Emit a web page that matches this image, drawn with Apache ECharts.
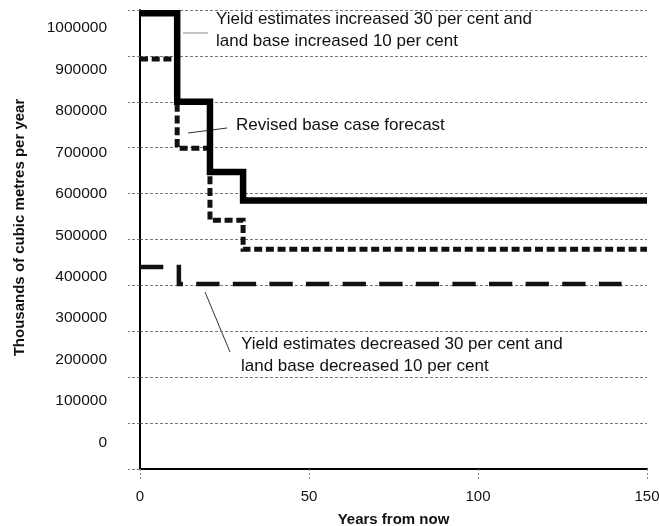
<!DOCTYPE html>
<html>
<head>
<meta charset="utf-8">
<script src="https://cdn.jsdelivr.net/npm/echarts@6/dist/echarts.min.js"></script>
<style>
  html, body { margin: 0; padding: 0; background: #fff; }
  #chart { width: 659px; height: 526px; }
</style>
</head>
<body>
<div id="chart"></div>
<script>
// step positions (years from now) and levels, thousands of m3 per year
var stepYears = [0, 11, 20.7, 30.5, 150];
var increased = [993000, 800000, 647000, 585000, 585000];
var baseCase = [893000, 699000, 542000, 479000, 479000];
var decreasedYears = [0, 11.5, 142.5];
var decreased = [440000, 403000, 403000];
var yTickLabels = [0, 100000, 200000, 300000, 400000, 500000, 600000, 700000, 800000, 900000, 1000000];

var FONT = '"Liberation Sans", Arial, sans-serif';

function zip(xs, ys) {
  return xs.map(function (x, i) { return [x, ys[i]]; });
}

var gridLine = { color: '#777', width: 1, type: [3, 2] };

var option = {
  animation: false,
  backgroundColor: '#fff',
  grid: { left: 140, right: 12, top: 10, bottom: 57, outerBoundsMode: 'none', containLabel: false },
  xAxis: {
    type: 'value',
    min: 0,
    max: 150,
    interval: 50,
    name: 'Years from now',
    nameLocation: 'middle',
    nameGap: 43,
    nameTextStyle: { fontFamily: FONT, fontWeight: 'bold', fontSize: 15, color: '#111' },
    axisLine: { lineStyle: { color: '#000', width: 2 } },
    axisTick: { length: 12, lineStyle: { color: '#888', width: 1, type: [2, 2] } },
    axisLabel: { margin: 20, fontFamily: FONT, fontSize: 15, color: '#111' },
    splitLine: { show: false }
  },
  yAxis: [
    {
      // drawing axis: holds gridlines and data
      type: 'value',
      min: 0,
      max: 1000000,
      interval: 100000,
      axisLine: { show: true, lineStyle: { color: '#000', width: 2 } },
      axisTick: { show: true, length: 12, lineStyle: gridLine },
      axisLabel: { show: false },
      splitLine: { show: true, lineStyle: gridLine }
    },
    {
      // label axis: the printed labels sit on their own spacing
      type: 'value',
      min: -64000,
      max: 1043400,
      position: 'left',
      axisLine: { show: false },
      axisTick: { show: false },
      splitLine: { show: false },
      axisLabel: {
        customValues: yTickLabels,
        formatter: function (v) { return String(v); },
        margin: 33,
        fontFamily: FONT,
        fontSize: 15.5,
        color: '#111'
      },
      name: 'Thousands of cubic metres per year',
      nameLocation: 'middle',
      nameGap: 113,
      nameTextStyle: {
        fontFamily: FONT, fontWeight: 'bold', fontSize: 15, color: '#111',
        padding: [0, 0, 0, 24]
      }
    }
  ],
  series: [
    {
      name: 'Increased',
      type: 'line',
      step: 'end',
      symbol: 'none',
      z: 4,
      data: zip(stepYears, increased),
      lineStyle: { color: '#000', width: 6.5, join: 'miter' }
    },
    {
      name: 'Base case',
      type: 'line',
      step: 'end',
      symbol: 'none',
      z: 3,
      data: zip(stepYears, baseCase),
      lineStyle: { color: '#111', width: 5, type: [8, 3.7], join: 'miter' }
    },
    {
      name: 'Decreased',
      type: 'line',
      step: 'end',
      symbol: 'none',
      z: 3,
      data: zip(decreasedYears, decreased),
      lineStyle: { color: '#111', width: 4.5, type: [23.3, 13.3], join: 'miter' }
    }
  ],
  graphic: [
    { type: 'line', shape: { x1: 183, y1: 33, x2: 208, y2: 33 }, style: { stroke: '#888', lineWidth: 1 } },
    { type: 'line', shape: { x1: 188, y1: 133, x2: 227, y2: 128 }, style: { stroke: '#333', lineWidth: 1 } },
    { type: 'line', shape: { x1: 205, y1: 292, x2: 230, y2: 352 }, style: { stroke: '#333', lineWidth: 1 } },
    {
      type: 'text', left: 216, top: 8,
      style: {
        text: 'Yield estimates increased 30 per cent and\nland base increased 10 per cent',
        font: '17px ' + FONT, fill: '#111', lineHeight: 22
      }
    },
    {
      type: 'text', left: 236, top: 117,
      style: { text: 'Revised base case forecast', font: '17px ' + FONT, fill: '#111' }
    },
    {
      type: 'text', left: 241, top: 333,
      style: {
        text: 'Yield estimates decreased 30 per cent and\nland base decreased 10 per cent',
        font: '17px ' + FONT, fill: '#111', lineHeight: 22
      }
    }
  ]
};

var myChart = echarts.init(document.getElementById('chart'));
myChart.setOption(option);
</script>
</body>
</html>
